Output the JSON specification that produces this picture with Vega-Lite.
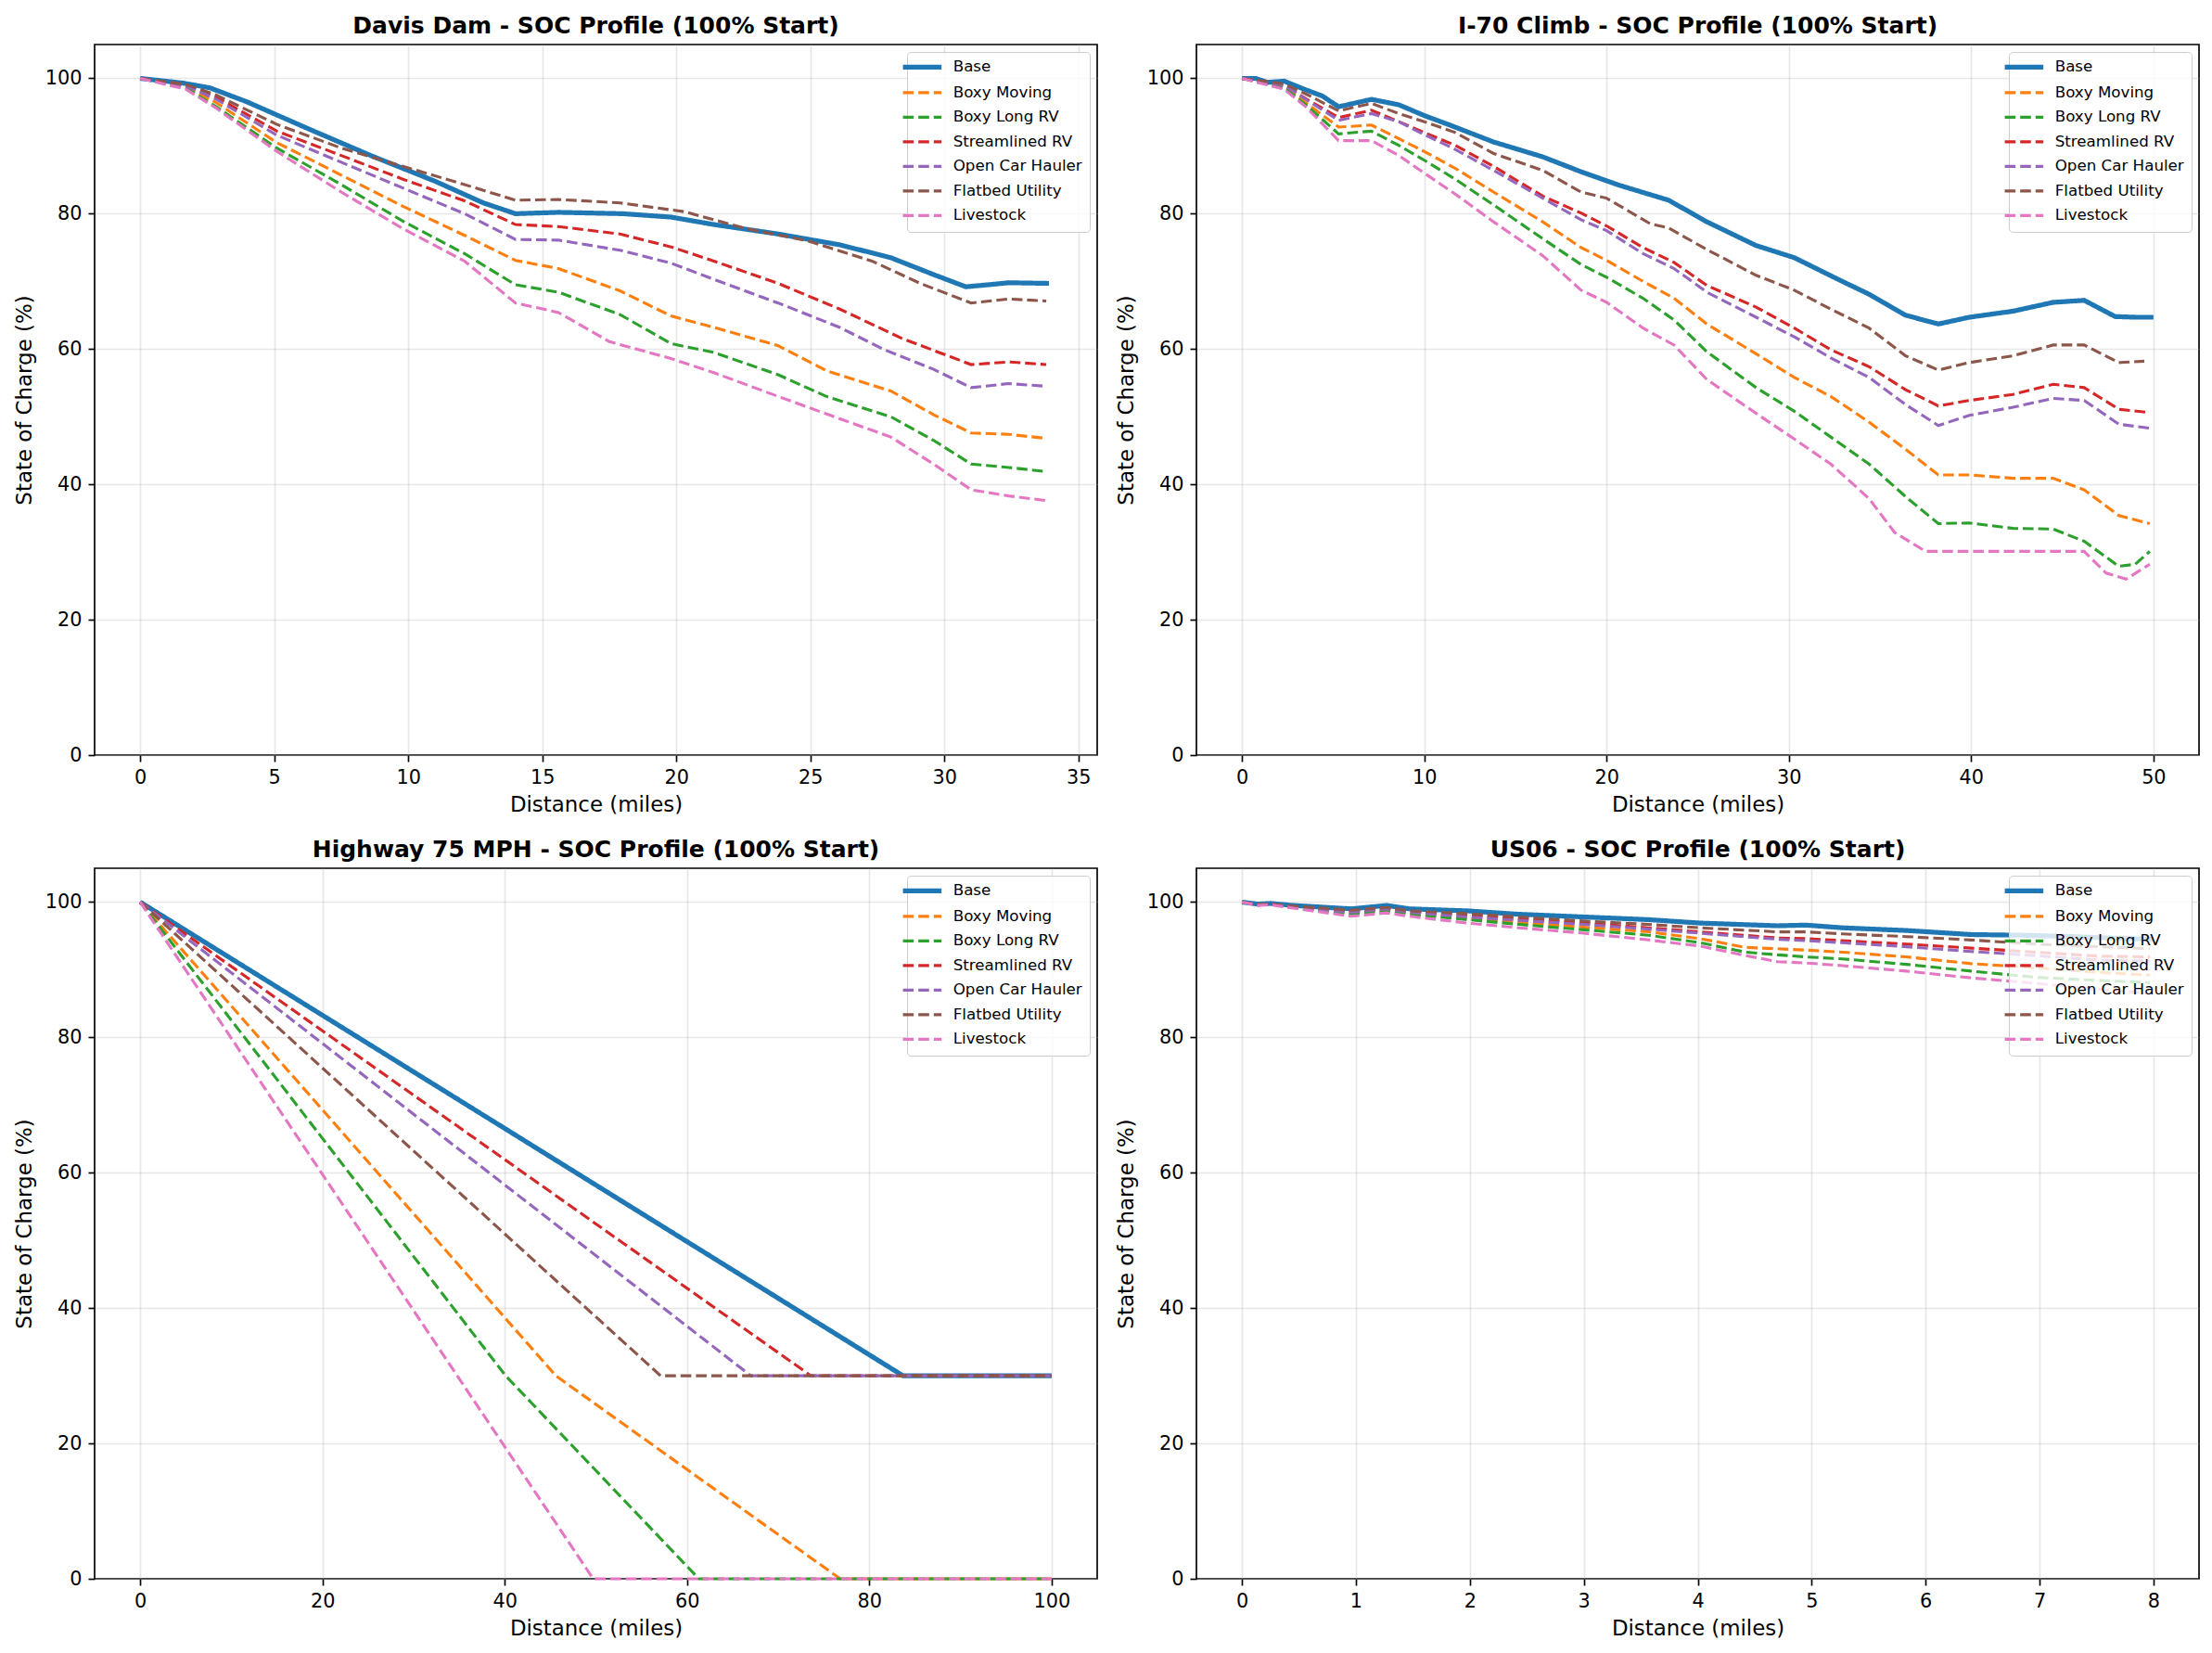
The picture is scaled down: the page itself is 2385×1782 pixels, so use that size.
{
  "$schema": "https://vega.github.io/schema/vega-lite/v6.json",
  "padding": {"left": 14, "top": 15, "right": 5, "bottom": 5},
  "background": "white",
  "config": {
    "font": "DejaVu Sans",
    "view": {"stroke": "#000000", "strokeWidth": 1.67},
    "axis": {
      "domain": false, "grid": true, "gridColor": "#b0b0b0", "gridOpacity": 0.3, "gridWidth": 1.67,
      "tickColor": "#000000", "tickSize": 7, "tickWidth": 1.67,
      "labelFontSize": 20.8, "labelColor": "#000000", "labelPadding": 7,
      "titleFontSize": 22.9, "titleFontWeight": "normal", "titleColor": "#000000"
    },
    "axisX": {"titlePadding": 9},
    "axisY": {"titlePadding": 10},
    "title": {"fontSize": 25, "fontWeight": "bold", "color": "#000000", "offset": 7, "baseline": "alphabetic", "anchor": "middle"},
    "legend": {
      "orient": "top-right", "offset": 8, "labelFontSize": 16.7, "labelColor": "#000000",
      "fillColor": "rgba(255,255,255,0.8)", "strokeColor": "#cccccc", "cornerRadius": 4,
      "padding": 8, "rowPadding": 8.5, "symbolType": "M-1.75,0H1.75", "symbolSize": 564, "labelOffset": 25,
      "symbolStrokeWidth": 3.1
    },
    "line": {"strokeCap": "butt"}
  },
  "resolve": {
    "scale": {"x": "independent", "y": "independent", "color": "independent", "strokeDash": "independent"},
    "legend": {"color": "independent", "strokeDash": "independent"}
  },
  "columns": 2,
  "spacing": {"column": 18, "row": 22},
  "datasets": {
    "davis": [
      {"miles":0,"soc":100,"vehicle":"Base"},{"miles":1.6,"soc":99.3,"vehicle":"Base"},{"miles":2.6,"soc":98.6,"vehicle":"Base"},{"miles":4,"soc":96.5,"vehicle":"Base"},{"miles":6.3,"soc":92.5,"vehicle":"Base"},{"miles":8.6,"soc":88.6,"vehicle":"Base"},{"miles":11,"soc":84.8,"vehicle":"Base"},{"miles":12.8,"soc":81.6,"vehicle":"Base"},{"miles":14,"soc":80,"vehicle":"Base"},{"miles":15.6,"soc":80.2,"vehicle":"Base"},{"miles":18,"soc":80,"vehicle":"Base"},{"miles":19.8,"soc":79.5,"vehicle":"Base"},{"miles":21.4,"soc":78.4,"vehicle":"Base"},{"miles":23.8,"soc":77,"vehicle":"Base"},{"miles":26.1,"soc":75.4,"vehicle":"Base"},{"miles":28,"soc":73.5,"vehicle":"Base"},{"miles":29.6,"soc":71,"vehicle":"Base"},{"miles":30.8,"soc":69.2,"vehicle":"Base"},{"miles":31.9,"soc":69.6,"vehicle":"Base"},{"miles":32.4,"soc":69.8,"vehicle":"Base"},{"miles":33.9,"soc":69.7,"vehicle":"Base"},
      {"miles":0,"soc":100,"vehicle":"Boxy Moving"},{"miles":1.7,"soc":98.8,"vehicle":"Boxy Moving"},{"miles":2.8,"soc":96.5,"vehicle":"Boxy Moving"},{"miles":5.1,"soc":90.5,"vehicle":"Boxy Moving"},{"miles":7.5,"soc":85.7,"vehicle":"Boxy Moving"},{"miles":9.8,"soc":81.1,"vehicle":"Boxy Moving"},{"miles":12.1,"soc":76.8,"vehicle":"Boxy Moving"},{"miles":14,"soc":73.1,"vehicle":"Boxy Moving"},{"miles":15.6,"soc":71.9,"vehicle":"Boxy Moving"},{"miles":17.9,"soc":68.6,"vehicle":"Boxy Moving"},{"miles":19.8,"soc":64.9,"vehicle":"Boxy Moving"},{"miles":21.4,"soc":63.2,"vehicle":"Boxy Moving"},{"miles":23.8,"soc":60.5,"vehicle":"Boxy Moving"},{"miles":25.6,"soc":56.8,"vehicle":"Boxy Moving"},{"miles":28,"soc":53.8,"vehicle":"Boxy Moving"},{"miles":29.6,"soc":50.3,"vehicle":"Boxy Moving"},{"miles":31,"soc":47.6,"vehicle":"Boxy Moving"},{"miles":32.4,"soc":47.4,"vehicle":"Boxy Moving"},{"miles":33.8,"soc":46.8,"vehicle":"Boxy Moving"},
      {"miles":0,"soc":100,"vehicle":"Boxy Long RV"},{"miles":1.7,"soc":98.6,"vehicle":"Boxy Long RV"},{"miles":2.8,"soc":95.9,"vehicle":"Boxy Long RV"},{"miles":5.1,"soc":89.7,"vehicle":"Boxy Long RV"},{"miles":7.5,"soc":84.3,"vehicle":"Boxy Long RV"},{"miles":9.8,"soc":78.9,"vehicle":"Boxy Long RV"},{"miles":12.1,"soc":74.1,"vehicle":"Boxy Long RV"},{"miles":14,"soc":69.5,"vehicle":"Boxy Long RV"},{"miles":15.6,"soc":68.4,"vehicle":"Boxy Long RV"},{"miles":17.9,"soc":65.1,"vehicle":"Boxy Long RV"},{"miles":19.8,"soc":60.8,"vehicle":"Boxy Long RV"},{"miles":21.4,"soc":59.5,"vehicle":"Boxy Long RV"},{"miles":23.8,"soc":56.2,"vehicle":"Boxy Long RV"},{"miles":25.6,"soc":53,"vehicle":"Boxy Long RV"},{"miles":28,"soc":50,"vehicle":"Boxy Long RV"},{"miles":29.6,"soc":46.5,"vehicle":"Boxy Long RV"},{"miles":31,"soc":43,"vehicle":"Boxy Long RV"},{"miles":32.4,"soc":42.5,"vehicle":"Boxy Long RV"},{"miles":33.8,"soc":41.9,"vehicle":"Boxy Long RV"},
      {"miles":0,"soc":100,"vehicle":"Streamlined RV"},{"miles":1.7,"soc":99,"vehicle":"Streamlined RV"},{"miles":2.8,"soc":97.3,"vehicle":"Streamlined RV"},{"miles":5.1,"soc":92.2,"vehicle":"Streamlined RV"},{"miles":7.5,"soc":88.6,"vehicle":"Streamlined RV"},{"miles":9.8,"soc":85.1,"vehicle":"Streamlined RV"},{"miles":12.1,"soc":81.9,"vehicle":"Streamlined RV"},{"miles":14,"soc":78.4,"vehicle":"Streamlined RV"},{"miles":15.6,"soc":78.1,"vehicle":"Streamlined RV"},{"miles":17.9,"soc":77,"vehicle":"Streamlined RV"},{"miles":19.8,"soc":75.1,"vehicle":"Streamlined RV"},{"miles":21.4,"soc":73,"vehicle":"Streamlined RV"},{"miles":23.8,"soc":69.7,"vehicle":"Streamlined RV"},{"miles":26.1,"soc":65.9,"vehicle":"Streamlined RV"},{"miles":28.4,"soc":61.6,"vehicle":"Streamlined RV"},{"miles":29.8,"soc":59.5,"vehicle":"Streamlined RV"},{"miles":31,"soc":57.7,"vehicle":"Streamlined RV"},{"miles":32.4,"soc":58.1,"vehicle":"Streamlined RV"},{"miles":33.8,"soc":57.7,"vehicle":"Streamlined RV"},
      {"miles":0,"soc":100,"vehicle":"Open Car Hauler"},{"miles":1.7,"soc":98.9,"vehicle":"Open Car Hauler"},{"miles":2.8,"soc":97,"vehicle":"Open Car Hauler"},{"miles":5.1,"soc":91.6,"vehicle":"Open Car Hauler"},{"miles":7.5,"soc":87.6,"vehicle":"Open Car Hauler"},{"miles":9.8,"soc":83.8,"vehicle":"Open Car Hauler"},{"miles":12.1,"soc":80,"vehicle":"Open Car Hauler"},{"miles":14,"soc":76.2,"vehicle":"Open Car Hauler"},{"miles":15.6,"soc":76.1,"vehicle":"Open Car Hauler"},{"miles":17.9,"soc":74.6,"vehicle":"Open Car Hauler"},{"miles":19.8,"soc":72.7,"vehicle":"Open Car Hauler"},{"miles":21.4,"soc":70.3,"vehicle":"Open Car Hauler"},{"miles":23.8,"soc":66.8,"vehicle":"Open Car Hauler"},{"miles":26.1,"soc":63.2,"vehicle":"Open Car Hauler"},{"miles":27.7,"soc":60,"vehicle":"Open Car Hauler"},{"miles":29.6,"soc":57,"vehicle":"Open Car Hauler"},{"miles":31,"soc":54.3,"vehicle":"Open Car Hauler"},{"miles":32.4,"soc":54.9,"vehicle":"Open Car Hauler"},{"miles":33.8,"soc":54.5,"vehicle":"Open Car Hauler"},
      {"miles":0,"soc":100,"vehicle":"Flatbed Utility"},{"miles":1.7,"soc":99.1,"vehicle":"Flatbed Utility"},{"miles":2.8,"soc":97.6,"vehicle":"Flatbed Utility"},{"miles":5.1,"soc":93.2,"vehicle":"Flatbed Utility"},{"miles":7.5,"soc":89.7,"vehicle":"Flatbed Utility"},{"miles":9.8,"soc":87,"vehicle":"Flatbed Utility"},{"miles":12.1,"soc":84.3,"vehicle":"Flatbed Utility"},{"miles":14,"soc":82,"vehicle":"Flatbed Utility"},{"miles":15.6,"soc":82.1,"vehicle":"Flatbed Utility"},{"miles":17.9,"soc":81.6,"vehicle":"Flatbed Utility"},{"miles":20.3,"soc":80.3,"vehicle":"Flatbed Utility"},{"miles":22.6,"soc":77.8,"vehicle":"Flatbed Utility"},{"miles":24.9,"soc":76,"vehicle":"Flatbed Utility"},{"miles":27.3,"soc":73,"vehicle":"Flatbed Utility"},{"miles":29.1,"soc":69.7,"vehicle":"Flatbed Utility"},{"miles":31,"soc":66.8,"vehicle":"Flatbed Utility"},{"miles":32.4,"soc":67.4,"vehicle":"Flatbed Utility"},{"miles":33.8,"soc":67.1,"vehicle":"Flatbed Utility"},
      {"miles":0,"soc":100,"vehicle":"Livestock"},{"miles":1.7,"soc":98.4,"vehicle":"Livestock"},{"miles":2.8,"soc":95.7,"vehicle":"Livestock"},{"miles":5.1,"soc":89.2,"vehicle":"Livestock"},{"miles":7.5,"soc":83.2,"vehicle":"Livestock"},{"miles":9.8,"soc":77.8,"vehicle":"Livestock"},{"miles":12.1,"soc":73,"vehicle":"Livestock"},{"miles":14,"soc":66.8,"vehicle":"Livestock"},{"miles":15.6,"soc":65.4,"vehicle":"Livestock"},{"miles":17.5,"soc":61.1,"vehicle":"Livestock"},{"miles":19.8,"soc":58.6,"vehicle":"Livestock"},{"miles":21.4,"soc":56.5,"vehicle":"Livestock"},{"miles":23.8,"soc":53,"vehicle":"Livestock"},{"miles":26.1,"soc":49.7,"vehicle":"Livestock"},{"miles":28,"soc":47,"vehicle":"Livestock"},{"miles":29.6,"soc":43,"vehicle":"Livestock"},{"miles":31,"soc":39.2,"vehicle":"Livestock"},{"miles":32.4,"soc":38.3,"vehicle":"Livestock"},{"miles":33.8,"soc":37.6,"vehicle":"Livestock"}
    ],
    "i70": [
      {"miles":0,"soc":100,"vehicle":"Base"},{"miles":0.75,"soc":100,"vehicle":"Base"},{"miles":1.4,"soc":99.4,"vehicle":"Base"},{"miles":2.3,"soc":99.6,"vehicle":"Base"},{"miles":3.5,"soc":98.3,"vehicle":"Base"},{"miles":4.4,"soc":97.4,"vehicle":"Base"},{"miles":5.3,"soc":95.8,"vehicle":"Base"},{"miles":7.1,"soc":96.9,"vehicle":"Base"},{"miles":8.6,"soc":96.1,"vehicle":"Base"},{"miles":10,"soc":94.5,"vehicle":"Base"},{"miles":11.4,"soc":93.1,"vehicle":"Base"},{"miles":13.8,"soc":90.6,"vehicle":"Base"},{"miles":16.5,"soc":88.4,"vehicle":"Base"},{"miles":18.6,"soc":86.2,"vehicle":"Base"},{"miles":20.7,"soc":84.2,"vehicle":"Base"},{"miles":23.4,"soc":82,"vehicle":"Base"},{"miles":25.5,"soc":78.8,"vehicle":"Base"},{"miles":28.2,"soc":75.3,"vehicle":"Base"},{"miles":30.3,"soc":73.5,"vehicle":"Base"},{"miles":32.7,"soc":70.3,"vehicle":"Base"},{"miles":34.4,"soc":68.1,"vehicle":"Base"},{"miles":36.4,"soc":65,"vehicle":"Base"},{"miles":38.2,"soc":63.7,"vehicle":"Base"},{"miles":39.9,"soc":64.7,"vehicle":"Base"},{"miles":42.3,"soc":65.6,"vehicle":"Base"},{"miles":44.5,"soc":66.9,"vehicle":"Base"},{"miles":46.2,"soc":67.2,"vehicle":"Base"},{"miles":47.9,"soc":64.8,"vehicle":"Base"},{"miles":49,"soc":64.7,"vehicle":"Base"},{"miles":50,"soc":64.7,"vehicle":"Base"},
      {"miles":0,"soc":100,"vehicle":"Boxy Moving"},{"miles":2.3,"soc":98.8,"vehicle":"Boxy Moving"},{"miles":3.5,"soc":96.4,"vehicle":"Boxy Moving"},{"miles":5.3,"soc":92.8,"vehicle":"Boxy Moving"},{"miles":7.1,"soc":93.1,"vehicle":"Boxy Moving"},{"miles":8.6,"soc":91.1,"vehicle":"Boxy Moving"},{"miles":10,"soc":89.2,"vehicle":"Boxy Moving"},{"miles":11.7,"soc":86.7,"vehicle":"Boxy Moving"},{"miles":13.8,"soc":83.2,"vehicle":"Boxy Moving"},{"miles":16.5,"soc":78.8,"vehicle":"Boxy Moving"},{"miles":18.6,"soc":75,"vehicle":"Boxy Moving"},{"miles":20,"soc":73.1,"vehicle":"Boxy Moving"},{"miles":22,"soc":70,"vehicle":"Boxy Moving"},{"miles":23.7,"soc":67.5,"vehicle":"Boxy Moving"},{"miles":25.5,"soc":63.7,"vehicle":"Boxy Moving"},{"miles":28.2,"soc":59.3,"vehicle":"Boxy Moving"},{"miles":30.3,"soc":55.8,"vehicle":"Boxy Moving"},{"miles":32.3,"soc":53,"vehicle":"Boxy Moving"},{"miles":34.4,"soc":49.2,"vehicle":"Boxy Moving"},{"miles":36.4,"soc":45.2,"vehicle":"Boxy Moving"},{"miles":38.2,"soc":41.4,"vehicle":"Boxy Moving"},{"miles":39.9,"soc":41.4,"vehicle":"Boxy Moving"},{"miles":42.3,"soc":40.9,"vehicle":"Boxy Moving"},{"miles":44.5,"soc":40.9,"vehicle":"Boxy Moving"},{"miles":46.2,"soc":39.2,"vehicle":"Boxy Moving"},{"miles":48.1,"soc":35.4,"vehicle":"Boxy Moving"},{"miles":49.8,"soc":34.2,"vehicle":"Boxy Moving"},
      {"miles":0,"soc":100,"vehicle":"Boxy Long RV"},{"miles":2.3,"soc":98.6,"vehicle":"Boxy Long RV"},{"miles":3.5,"soc":96.1,"vehicle":"Boxy Long RV"},{"miles":5.3,"soc":91.8,"vehicle":"Boxy Long RV"},{"miles":7.1,"soc":92.2,"vehicle":"Boxy Long RV"},{"miles":8.6,"soc":90.1,"vehicle":"Boxy Long RV"},{"miles":10,"soc":87.9,"vehicle":"Boxy Long RV"},{"miles":11.7,"soc":85.1,"vehicle":"Boxy Long RV"},{"miles":13.8,"soc":81.3,"vehicle":"Boxy Long RV"},{"miles":16.5,"soc":76.3,"vehicle":"Boxy Long RV"},{"miles":18.6,"soc":72.5,"vehicle":"Boxy Long RV"},{"miles":20,"soc":70.6,"vehicle":"Boxy Long RV"},{"miles":22,"soc":67.5,"vehicle":"Boxy Long RV"},{"miles":23.7,"soc":64.3,"vehicle":"Boxy Long RV"},{"miles":25.5,"soc":59.6,"vehicle":"Boxy Long RV"},{"miles":28.2,"soc":54.3,"vehicle":"Boxy Long RV"},{"miles":30.3,"soc":50.8,"vehicle":"Boxy Long RV"},{"miles":32.3,"soc":47,"vehicle":"Boxy Long RV"},{"miles":34.4,"soc":43,"vehicle":"Boxy Long RV"},{"miles":36.4,"soc":38.2,"vehicle":"Boxy Long RV"},{"miles":38.2,"soc":34.2,"vehicle":"Boxy Long RV"},{"miles":39.9,"soc":34.3,"vehicle":"Boxy Long RV"},{"miles":42.3,"soc":33.5,"vehicle":"Boxy Long RV"},{"miles":44.5,"soc":33.4,"vehicle":"Boxy Long RV"},{"miles":46.2,"soc":31.6,"vehicle":"Boxy Long RV"},{"miles":48.1,"soc":27.9,"vehicle":"Boxy Long RV"},{"miles":49,"soc":28.2,"vehicle":"Boxy Long RV"},{"miles":49.8,"soc":30.1,"vehicle":"Boxy Long RV"},
      {"miles":0,"soc":100,"vehicle":"Streamlined RV"},{"miles":2.3,"soc":99,"vehicle":"Streamlined RV"},{"miles":3.5,"soc":97,"vehicle":"Streamlined RV"},{"miles":5.3,"soc":94.2,"vehicle":"Streamlined RV"},{"miles":7.1,"soc":95.3,"vehicle":"Streamlined RV"},{"miles":8.6,"soc":93.6,"vehicle":"Streamlined RV"},{"miles":10,"soc":92,"vehicle":"Streamlined RV"},{"miles":11.7,"soc":90.1,"vehicle":"Streamlined RV"},{"miles":13.8,"soc":87,"vehicle":"Streamlined RV"},{"miles":16.5,"soc":82.6,"vehicle":"Streamlined RV"},{"miles":18.6,"soc":80.1,"vehicle":"Streamlined RV"},{"miles":20,"soc":78.2,"vehicle":"Streamlined RV"},{"miles":22,"soc":75,"vehicle":"Streamlined RV"},{"miles":23.7,"soc":72.8,"vehicle":"Streamlined RV"},{"miles":25.5,"soc":69.4,"vehicle":"Streamlined RV"},{"miles":28.2,"soc":66.2,"vehicle":"Streamlined RV"},{"miles":30.3,"soc":63.1,"vehicle":"Streamlined RV"},{"miles":32.3,"soc":59.9,"vehicle":"Streamlined RV"},{"miles":34.4,"soc":57.4,"vehicle":"Streamlined RV"},{"miles":36.4,"soc":54,"vehicle":"Streamlined RV"},{"miles":38.2,"soc":51.6,"vehicle":"Streamlined RV"},{"miles":39.9,"soc":52.4,"vehicle":"Streamlined RV"},{"miles":42.3,"soc":53.3,"vehicle":"Streamlined RV"},{"miles":44.5,"soc":54.8,"vehicle":"Streamlined RV"},{"miles":46.2,"soc":54.3,"vehicle":"Streamlined RV"},{"miles":48.1,"soc":51.1,"vehicle":"Streamlined RV"},{"miles":49.8,"soc":50.6,"vehicle":"Streamlined RV"},
      {"miles":0,"soc":100,"vehicle":"Open Car Hauler"},{"miles":2.3,"soc":99,"vehicle":"Open Car Hauler"},{"miles":3.5,"soc":96.9,"vehicle":"Open Car Hauler"},{"miles":5.3,"soc":93.8,"vehicle":"Open Car Hauler"},{"miles":7.1,"soc":94.8,"vehicle":"Open Car Hauler"},{"miles":8.6,"soc":93.6,"vehicle":"Open Car Hauler"},{"miles":10,"soc":91.7,"vehicle":"Open Car Hauler"},{"miles":11.7,"soc":89.5,"vehicle":"Open Car Hauler"},{"miles":13.8,"soc":86.4,"vehicle":"Open Car Hauler"},{"miles":16.5,"soc":82.3,"vehicle":"Open Car Hauler"},{"miles":18.6,"soc":79.1,"vehicle":"Open Car Hauler"},{"miles":20,"soc":77.5,"vehicle":"Open Car Hauler"},{"miles":22,"soc":74.1,"vehicle":"Open Car Hauler"},{"miles":23.7,"soc":71.9,"vehicle":"Open Car Hauler"},{"miles":25.5,"soc":68.4,"vehicle":"Open Car Hauler"},{"miles":28.2,"soc":64.7,"vehicle":"Open Car Hauler"},{"miles":30.3,"soc":61.8,"vehicle":"Open Car Hauler"},{"miles":32.3,"soc":58.7,"vehicle":"Open Car Hauler"},{"miles":34.4,"soc":55.8,"vehicle":"Open Car Hauler"},{"miles":36.4,"soc":51.8,"vehicle":"Open Car Hauler"},{"miles":38.2,"soc":48.7,"vehicle":"Open Car Hauler"},{"miles":39.9,"soc":50.2,"vehicle":"Open Car Hauler"},{"miles":42.3,"soc":51.4,"vehicle":"Open Car Hauler"},{"miles":44.5,"soc":52.7,"vehicle":"Open Car Hauler"},{"miles":46.2,"soc":52.4,"vehicle":"Open Car Hauler"},{"miles":48.1,"soc":48.9,"vehicle":"Open Car Hauler"},{"miles":49.8,"soc":48.3,"vehicle":"Open Car Hauler"},
      {"miles":0,"soc":100,"vehicle":"Flatbed Utility"},{"miles":2.3,"soc":99.2,"vehicle":"Flatbed Utility"},{"miles":3.5,"soc":97.7,"vehicle":"Flatbed Utility"},{"miles":5.3,"soc":95.2,"vehicle":"Flatbed Utility"},{"miles":7.1,"soc":96.3,"vehicle":"Flatbed Utility"},{"miles":8.6,"soc":94.8,"vehicle":"Flatbed Utility"},{"miles":10,"soc":93.6,"vehicle":"Flatbed Utility"},{"miles":11.7,"soc":92,"vehicle":"Flatbed Utility"},{"miles":13.8,"soc":88.9,"vehicle":"Flatbed Utility"},{"miles":16.5,"soc":86.4,"vehicle":"Flatbed Utility"},{"miles":18.6,"soc":83.2,"vehicle":"Flatbed Utility"},{"miles":20,"soc":82.3,"vehicle":"Flatbed Utility"},{"miles":22.4,"soc":78.5,"vehicle":"Flatbed Utility"},{"miles":23.4,"soc":77.9,"vehicle":"Flatbed Utility"},{"miles":25.5,"soc":74.7,"vehicle":"Flatbed Utility"},{"miles":28.2,"soc":70.9,"vehicle":"Flatbed Utility"},{"miles":30.3,"soc":68.7,"vehicle":"Flatbed Utility"},{"miles":32.3,"soc":65.9,"vehicle":"Flatbed Utility"},{"miles":34.4,"soc":63.1,"vehicle":"Flatbed Utility"},{"miles":36.4,"soc":59,"vehicle":"Flatbed Utility"},{"miles":38.2,"soc":56.9,"vehicle":"Flatbed Utility"},{"miles":39.9,"soc":58,"vehicle":"Flatbed Utility"},{"miles":42.3,"soc":59,"vehicle":"Flatbed Utility"},{"miles":44.5,"soc":60.6,"vehicle":"Flatbed Utility"},{"miles":46.2,"soc":60.6,"vehicle":"Flatbed Utility"},{"miles":48.1,"soc":58,"vehicle":"Flatbed Utility"},{"miles":49.5,"soc":58.2,"vehicle":"Flatbed Utility"},
      {"miles":0,"soc":100,"vehicle":"Livestock"},{"miles":2.3,"soc":98.4,"vehicle":"Livestock"},{"miles":3.5,"soc":95.8,"vehicle":"Livestock"},{"miles":5.3,"soc":90.8,"vehicle":"Livestock"},{"miles":7.1,"soc":90.8,"vehicle":"Livestock"},{"miles":8.6,"soc":88.6,"vehicle":"Livestock"},{"miles":10,"soc":86,"vehicle":"Livestock"},{"miles":11.7,"soc":82.9,"vehicle":"Livestock"},{"miles":13.8,"soc":78.8,"vehicle":"Livestock"},{"miles":16.5,"soc":73.8,"vehicle":"Livestock"},{"miles":18.6,"soc":68.7,"vehicle":"Livestock"},{"miles":20,"soc":66.9,"vehicle":"Livestock"},{"miles":22,"soc":63.1,"vehicle":"Livestock"},{"miles":23.7,"soc":60.6,"vehicle":"Livestock"},{"miles":25.5,"soc":55.5,"vehicle":"Livestock"},{"miles":28.2,"soc":50.5,"vehicle":"Livestock"},{"miles":30.3,"soc":46.7,"vehicle":"Livestock"},{"miles":32.3,"soc":43,"vehicle":"Livestock"},{"miles":34.4,"soc":37.9,"vehicle":"Livestock"},{"miles":35.8,"soc":32.9,"vehicle":"Livestock"},{"miles":37.5,"soc":30.1,"vehicle":"Livestock"},{"miles":39.9,"soc":30.1,"vehicle":"Livestock"},{"miles":46.2,"soc":30.1,"vehicle":"Livestock"},{"miles":47.4,"soc":26.9,"vehicle":"Livestock"},{"miles":48.5,"soc":26,"vehicle":"Livestock"},{"miles":49.8,"soc":28.2,"vehicle":"Livestock"}
    ],
    "hwy": [
      {"miles":0,"soc":100,"vehicle":"Base"},{"miles":83.7,"soc":30,"vehicle":"Base"},{"miles":100,"soc":30,"vehicle":"Base"},
      {"miles":0,"soc":100,"vehicle":"Boxy Moving"},{"miles":45.6,"soc":30,"vehicle":"Boxy Moving"},{"miles":76.8,"soc":0,"vehicle":"Boxy Moving"},{"miles":100,"soc":0,"vehicle":"Boxy Moving"},
      {"miles":0,"soc":100,"vehicle":"Boxy Long RV"},{"miles":40.1,"soc":30,"vehicle":"Boxy Long RV"},{"miles":61.3,"soc":0,"vehicle":"Boxy Long RV"},{"miles":100,"soc":0,"vehicle":"Boxy Long RV"},
      {"miles":0,"soc":100,"vehicle":"Streamlined RV"},{"miles":73.6,"soc":30,"vehicle":"Streamlined RV"},{"miles":100,"soc":30,"vehicle":"Streamlined RV"},
      {"miles":0,"soc":100,"vehicle":"Open Car Hauler"},{"miles":67,"soc":30,"vehicle":"Open Car Hauler"},{"miles":100,"soc":30,"vehicle":"Open Car Hauler"},
      {"miles":0,"soc":100,"vehicle":"Flatbed Utility"},{"miles":57.1,"soc":30,"vehicle":"Flatbed Utility"},{"miles":100,"soc":30,"vehicle":"Flatbed Utility"},
      {"miles":0,"soc":100,"vehicle":"Livestock"},{"miles":49.7,"soc":0,"vehicle":"Livestock"},{"miles":100,"soc":0,"vehicle":"Livestock"}
    ],
    "us06": [
      {"miles":0,"soc":100,"vehicle":"Base"},{"miles":0.14,"soc":99.7,"vehicle":"Base"},{"miles":0.25,"soc":99.8,"vehicle":"Base"},{"miles":0.45,"soc":99.5,"vehicle":"Base"},{"miles":0.96,"soc":99,"vehicle":"Base"},{"miles":1.27,"soc":99.5,"vehicle":"Base"},{"miles":1.47,"soc":99,"vehicle":"Base"},{"miles":1.98,"soc":98.7,"vehicle":"Base"},{"miles":2.43,"soc":98.2,"vehicle":"Base"},{"miles":3,"soc":97.8,"vehicle":"Base"},{"miles":3.57,"soc":97.4,"vehicle":"Base"},{"miles":4.02,"soc":96.9,"vehicle":"Base"},{"miles":4.7,"soc":96.5,"vehicle":"Base"},{"miles":4.95,"soc":96.6,"vehicle":"Base"},{"miles":5.27,"soc":96.2,"vehicle":"Base"},{"miles":5.83,"soc":95.8,"vehicle":"Base"},{"miles":6.4,"soc":95.2,"vehicle":"Base"},{"miles":6.85,"soc":95.1,"vehicle":"Base"},{"miles":7.3,"soc":94.9,"vehicle":"Base"},{"miles":7.6,"soc":94.7,"vehicle":"Base"},{"miles":8,"soc":94.5,"vehicle":"Base"},
      {"miles":0,"soc":100,"vehicle":"Boxy Moving"},{"miles":0.14,"soc":99.6,"vehicle":"Boxy Moving"},{"miles":0.25,"soc":99.7,"vehicle":"Boxy Moving"},{"miles":0.45,"soc":99.3,"vehicle":"Boxy Moving"},{"miles":0.96,"soc":98.4,"vehicle":"Boxy Moving"},{"miles":1.27,"soc":98.9,"vehicle":"Boxy Moving"},{"miles":1.47,"soc":98.4,"vehicle":"Boxy Moving"},{"miles":1.98,"soc":97.6,"vehicle":"Boxy Moving"},{"miles":2.43,"soc":97,"vehicle":"Boxy Moving"},{"miles":3,"soc":96.3,"vehicle":"Boxy Moving"},{"miles":3.57,"soc":95.6,"vehicle":"Boxy Moving"},{"miles":4.02,"soc":94.6,"vehicle":"Boxy Moving"},{"miles":4.42,"soc":93.3,"vehicle":"Boxy Moving"},{"miles":4.7,"soc":93.1,"vehicle":"Boxy Moving"},{"miles":4.95,"soc":92.9,"vehicle":"Boxy Moving"},{"miles":5.27,"soc":92.6,"vehicle":"Boxy Moving"},{"miles":5.83,"soc":91.9,"vehicle":"Boxy Moving"},{"miles":6.4,"soc":90.9,"vehicle":"Boxy Moving"},{"miles":6.96,"soc":90.3,"vehicle":"Boxy Moving"},{"miles":7.53,"soc":89.6,"vehicle":"Boxy Moving"},{"miles":7.97,"soc":89.2,"vehicle":"Boxy Moving"},
      {"miles":0,"soc":100,"vehicle":"Boxy Long RV"},{"miles":0.14,"soc":99.6,"vehicle":"Boxy Long RV"},{"miles":0.25,"soc":99.7,"vehicle":"Boxy Long RV"},{"miles":0.45,"soc":99.2,"vehicle":"Boxy Long RV"},{"miles":0.96,"soc":98.2,"vehicle":"Boxy Long RV"},{"miles":1.27,"soc":98.7,"vehicle":"Boxy Long RV"},{"miles":1.47,"soc":98.2,"vehicle":"Boxy Long RV"},{"miles":1.98,"soc":97.4,"vehicle":"Boxy Long RV"},{"miles":2.43,"soc":96.7,"vehicle":"Boxy Long RV"},{"miles":3,"soc":95.9,"vehicle":"Boxy Long RV"},{"miles":3.57,"soc":95.1,"vehicle":"Boxy Long RV"},{"miles":4.02,"soc":94,"vehicle":"Boxy Long RV"},{"miles":4.42,"soc":92.6,"vehicle":"Boxy Long RV"},{"miles":4.7,"soc":92.2,"vehicle":"Boxy Long RV"},{"miles":4.95,"soc":91.9,"vehicle":"Boxy Long RV"},{"miles":5.27,"soc":91.6,"vehicle":"Boxy Long RV"},{"miles":5.83,"soc":90.8,"vehicle":"Boxy Long RV"},{"miles":6.4,"soc":89.8,"vehicle":"Boxy Long RV"},{"miles":6.96,"soc":88.9,"vehicle":"Boxy Long RV"},{"miles":7.53,"soc":88.4,"vehicle":"Boxy Long RV"},{"miles":7.97,"soc":88.1,"vehicle":"Boxy Long RV"},
      {"miles":0,"soc":100,"vehicle":"Streamlined RV"},{"miles":0.14,"soc":99.6,"vehicle":"Streamlined RV"},{"miles":0.25,"soc":99.7,"vehicle":"Streamlined RV"},{"miles":0.45,"soc":99.3,"vehicle":"Streamlined RV"},{"miles":0.96,"soc":98.7,"vehicle":"Streamlined RV"},{"miles":1.27,"soc":99.1,"vehicle":"Streamlined RV"},{"miles":1.47,"soc":98.6,"vehicle":"Streamlined RV"},{"miles":1.98,"soc":98.1,"vehicle":"Streamlined RV"},{"miles":2.43,"soc":97.5,"vehicle":"Streamlined RV"},{"miles":3,"soc":96.9,"vehicle":"Streamlined RV"},{"miles":3.57,"soc":96.2,"vehicle":"Streamlined RV"},{"miles":4.02,"soc":95.6,"vehicle":"Streamlined RV"},{"miles":4.7,"soc":94.7,"vehicle":"Streamlined RV"},{"miles":4.95,"soc":94.6,"vehicle":"Streamlined RV"},{"miles":5.27,"soc":94.3,"vehicle":"Streamlined RV"},{"miles":5.83,"soc":93.8,"vehicle":"Streamlined RV"},{"miles":6.4,"soc":93.2,"vehicle":"Streamlined RV"},{"miles":6.96,"soc":92.6,"vehicle":"Streamlined RV"},{"miles":7.53,"soc":92,"vehicle":"Streamlined RV"},{"miles":7.97,"soc":91.9,"vehicle":"Streamlined RV"},
      {"miles":0,"soc":100,"vehicle":"Open Car Hauler"},{"miles":0.14,"soc":99.6,"vehicle":"Open Car Hauler"},{"miles":0.25,"soc":99.7,"vehicle":"Open Car Hauler"},{"miles":0.45,"soc":99.3,"vehicle":"Open Car Hauler"},{"miles":0.96,"soc":98.5,"vehicle":"Open Car Hauler"},{"miles":1.27,"soc":99,"vehicle":"Open Car Hauler"},{"miles":1.47,"soc":98.5,"vehicle":"Open Car Hauler"},{"miles":1.98,"soc":97.8,"vehicle":"Open Car Hauler"},{"miles":2.43,"soc":97.3,"vehicle":"Open Car Hauler"},{"miles":3,"soc":96.7,"vehicle":"Open Car Hauler"},{"miles":3.57,"soc":96,"vehicle":"Open Car Hauler"},{"miles":4.02,"soc":95.4,"vehicle":"Open Car Hauler"},{"miles":4.7,"soc":94.5,"vehicle":"Open Car Hauler"},{"miles":4.95,"soc":94.3,"vehicle":"Open Car Hauler"},{"miles":5.27,"soc":94,"vehicle":"Open Car Hauler"},{"miles":5.83,"soc":93.4,"vehicle":"Open Car Hauler"},{"miles":6.4,"soc":92.7,"vehicle":"Open Car Hauler"},{"miles":6.96,"soc":92.1,"vehicle":"Open Car Hauler"},{"miles":7.53,"soc":91.4,"vehicle":"Open Car Hauler"},{"miles":7.97,"soc":91.3,"vehicle":"Open Car Hauler"},
      {"miles":0,"soc":100,"vehicle":"Flatbed Utility"},{"miles":0.14,"soc":99.6,"vehicle":"Flatbed Utility"},{"miles":0.25,"soc":99.7,"vehicle":"Flatbed Utility"},{"miles":0.45,"soc":99.4,"vehicle":"Flatbed Utility"},{"miles":0.96,"soc":98.8,"vehicle":"Flatbed Utility"},{"miles":1.27,"soc":99.2,"vehicle":"Flatbed Utility"},{"miles":1.47,"soc":98.7,"vehicle":"Flatbed Utility"},{"miles":1.98,"soc":98.3,"vehicle":"Flatbed Utility"},{"miles":2.43,"soc":97.8,"vehicle":"Flatbed Utility"},{"miles":3,"soc":97.2,"vehicle":"Flatbed Utility"},{"miles":3.57,"soc":96.7,"vehicle":"Flatbed Utility"},{"miles":4.02,"soc":96.2,"vehicle":"Flatbed Utility"},{"miles":4.7,"soc":95.6,"vehicle":"Flatbed Utility"},{"miles":4.95,"soc":95.6,"vehicle":"Flatbed Utility"},{"miles":5.27,"soc":95.3,"vehicle":"Flatbed Utility"},{"miles":5.83,"soc":94.9,"vehicle":"Flatbed Utility"},{"miles":6.4,"soc":94.4,"vehicle":"Flatbed Utility"},{"miles":6.96,"soc":93.8,"vehicle":"Flatbed Utility"},{"miles":7.53,"soc":93.4,"vehicle":"Flatbed Utility"},{"miles":7.97,"soc":93.1,"vehicle":"Flatbed Utility"},
      {"miles":0,"soc":100,"vehicle":"Livestock"},{"miles":0.14,"soc":99.5,"vehicle":"Livestock"},{"miles":0.25,"soc":99.6,"vehicle":"Livestock"},{"miles":0.45,"soc":99.1,"vehicle":"Livestock"},{"miles":0.96,"soc":97.9,"vehicle":"Livestock"},{"miles":1.27,"soc":98.4,"vehicle":"Livestock"},{"miles":1.47,"soc":97.9,"vehicle":"Livestock"},{"miles":1.98,"soc":96.9,"vehicle":"Livestock"},{"miles":2.43,"soc":96.2,"vehicle":"Livestock"},{"miles":3,"soc":95.4,"vehicle":"Livestock"},{"miles":3.57,"soc":94.4,"vehicle":"Livestock"},{"miles":4.02,"soc":93.5,"vehicle":"Livestock"},{"miles":4.42,"soc":92.1,"vehicle":"Livestock"},{"miles":4.7,"soc":91.2,"vehicle":"Livestock"},{"miles":4.95,"soc":91,"vehicle":"Livestock"},{"miles":5.27,"soc":90.6,"vehicle":"Livestock"},{"miles":5.83,"soc":89.8,"vehicle":"Livestock"},{"miles":6.4,"soc":88.8,"vehicle":"Livestock"},{"miles":6.96,"soc":88,"vehicle":"Livestock"},{"miles":7.53,"soc":87.1,"vehicle":"Livestock"},{"miles":7.97,"soc":86.5,"vehicle":"Livestock"}
    ]
  },
  "concat": [
    {
      "title": "Davis Dam - SOC Profile (100% Start)",
      "width": 1081, "height": 766,
      "data": {"name": "davis"},
      "mark": {"type": "line"},
      "encoding": {
        "x": {"field": "miles", "type": "quantitative", "scale": {"domain": [-1.7, 35.7], "nice": false, "zero": false}, "axis": {"title": "Distance (miles)", "values": [0,5,10,15,20,25,30,35]}},
        "y": {"field": "soc", "type": "quantitative", "scale": {"domain": [0, 105], "nice": false}, "axis": {"title": "State of Charge (%)", "values": [0,20,40,60,80,100]}},
        "color": {"field": "vehicle", "type": "nominal", "scale": {"domain": ["Base","Boxy Moving","Boxy Long RV","Streamlined RV","Open Car Hauler","Flatbed Utility","Livestock"], "range": ["#1f77b4","#ff7f0e","#2ca02c","#d62728","#9467bd","#8c564b","#e377c2"]}, "legend": {"title": null, "encode": {"symbols": {"update": {"strokeWidth": {"signal": "datum.value === 'Base' ? 5.2 : 3.1"}}}}}},
        "strokeDash": {"field": "vehicle", "type": "nominal", "scale": {"domain": ["Base","Boxy Moving","Boxy Long RV","Streamlined RV","Open Car Hauler","Flatbed Utility","Livestock"], "range": [[1,0],[11.6,5],[11.6,5],[11.6,5],[11.6,5],[11.6,5],[11.6,5]]}, "legend": {"title": null}},
        "strokeWidth": {"condition": {"test": "datum.vehicle === 'Base'", "value": 5.2}, "value": 3.1}
      }
    },
    {
      "title": "I-70 Climb - SOC Profile (100% Start)",
      "width": 1081, "height": 766,
      "data": {"name": "i70"},
      "mark": {"type": "line"},
      "encoding": {
        "x": {"field": "miles", "type": "quantitative", "scale": {"domain": [-2.5, 52.5], "nice": false, "zero": false}, "axis": {"title": "Distance (miles)", "values": [0,10,20,30,40,50]}},
        "y": {"field": "soc", "type": "quantitative", "scale": {"domain": [0, 105], "nice": false}, "axis": {"title": "State of Charge (%)", "values": [0,20,40,60,80,100]}},
        "color": {"field": "vehicle", "type": "nominal", "scale": {"domain": ["Base","Boxy Moving","Boxy Long RV","Streamlined RV","Open Car Hauler","Flatbed Utility","Livestock"], "range": ["#1f77b4","#ff7f0e","#2ca02c","#d62728","#9467bd","#8c564b","#e377c2"]}, "legend": {"title": null, "encode": {"symbols": {"update": {"strokeWidth": {"signal": "datum.value === 'Base' ? 5.2 : 3.1"}}}}}},
        "strokeDash": {"field": "vehicle", "type": "nominal", "scale": {"domain": ["Base","Boxy Moving","Boxy Long RV","Streamlined RV","Open Car Hauler","Flatbed Utility","Livestock"], "range": [[1,0],[11.6,5],[11.6,5],[11.6,5],[11.6,5],[11.6,5],[11.6,5]]}, "legend": {"title": null}},
        "strokeWidth": {"condition": {"test": "datum.vehicle === 'Base'", "value": 5.2}, "value": 3.1}
      }
    },
    {
      "title": "Highway 75 MPH - SOC Profile (100% Start)",
      "width": 1081, "height": 766,
      "data": {"name": "hwy"},
      "mark": {"type": "line"},
      "encoding": {
        "x": {"field": "miles", "type": "quantitative", "scale": {"domain": [-5, 105], "nice": false, "zero": false}, "axis": {"title": "Distance (miles)", "values": [0,20,40,60,80,100]}},
        "y": {"field": "soc", "type": "quantitative", "scale": {"domain": [0, 105], "nice": false}, "axis": {"title": "State of Charge (%)", "values": [0,20,40,60,80,100]}},
        "color": {"field": "vehicle", "type": "nominal", "scale": {"domain": ["Base","Boxy Moving","Boxy Long RV","Streamlined RV","Open Car Hauler","Flatbed Utility","Livestock"], "range": ["#1f77b4","#ff7f0e","#2ca02c","#d62728","#9467bd","#8c564b","#e377c2"]}, "legend": {"title": null, "encode": {"symbols": {"update": {"strokeWidth": {"signal": "datum.value === 'Base' ? 5.2 : 3.1"}}}}}},
        "strokeDash": {"field": "vehicle", "type": "nominal", "scale": {"domain": ["Base","Boxy Moving","Boxy Long RV","Streamlined RV","Open Car Hauler","Flatbed Utility","Livestock"], "range": [[1,0],[11.6,5],[11.6,5],[11.6,5],[11.6,5],[11.6,5],[11.6,5]]}, "legend": {"title": null}},
        "strokeWidth": {"condition": {"test": "datum.vehicle === 'Base'", "value": 5.2}, "value": 3.1}
      }
    },
    {
      "title": "US06 - SOC Profile (100% Start)",
      "width": 1081, "height": 766,
      "data": {"name": "us06"},
      "mark": {"type": "line"},
      "encoding": {
        "x": {"field": "miles", "type": "quantitative", "scale": {"domain": [-0.4, 8.4], "nice": false, "zero": false}, "axis": {"title": "Distance (miles)", "values": [0,1,2,3,4,5,6,7,8]}},
        "y": {"field": "soc", "type": "quantitative", "scale": {"domain": [0, 105], "nice": false}, "axis": {"title": "State of Charge (%)", "values": [0,20,40,60,80,100]}},
        "color": {"field": "vehicle", "type": "nominal", "scale": {"domain": ["Base","Boxy Moving","Boxy Long RV","Streamlined RV","Open Car Hauler","Flatbed Utility","Livestock"], "range": ["#1f77b4","#ff7f0e","#2ca02c","#d62728","#9467bd","#8c564b","#e377c2"]}, "legend": {"title": null, "encode": {"symbols": {"update": {"strokeWidth": {"signal": "datum.value === 'Base' ? 5.2 : 3.1"}}}}}},
        "strokeDash": {"field": "vehicle", "type": "nominal", "scale": {"domain": ["Base","Boxy Moving","Boxy Long RV","Streamlined RV","Open Car Hauler","Flatbed Utility","Livestock"], "range": [[1,0],[11.6,5],[11.6,5],[11.6,5],[11.6,5],[11.6,5],[11.6,5]]}, "legend": {"title": null}},
        "strokeWidth": {"condition": {"test": "datum.vehicle === 'Base'", "value": 5.2}, "value": 3.1}
      }
    }
  ]
}
